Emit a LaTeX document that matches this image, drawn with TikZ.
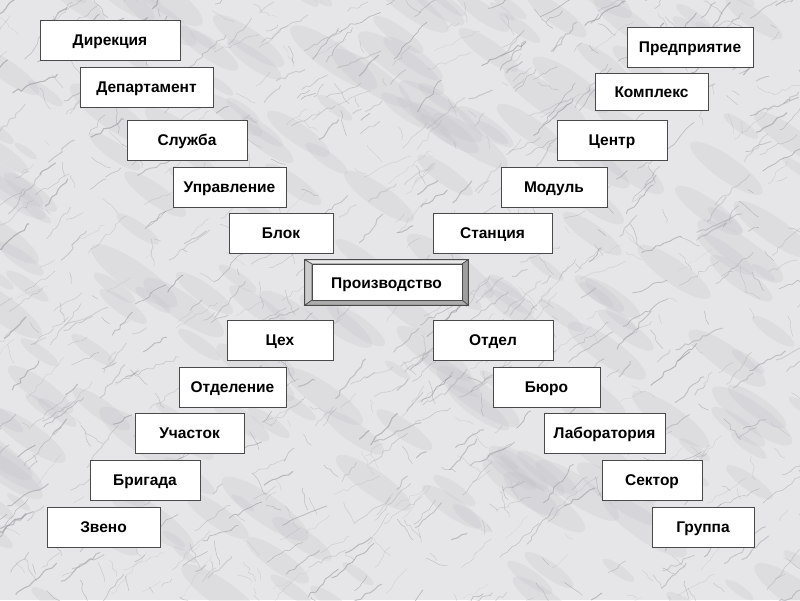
\documentclass[tikz,border=0pt]{standalone}
\usepackage{fontspec}
\setmainfont{Liberation Sans}
\usetikzlibrary{decorations.pathmorphing}
\definecolor{marble}{HTML}{E6E6E8}
\definecolor{vein}{HTML}{8C8C94}
\definecolor{marbleshade}{HTML}{C0C0C6}
\definecolor{edge}{HTML}{4A4A4A}
\tikzset{
  boxfont/.style={font=\bfseries\fontsize{15.5}{18}\selectfont, text=black,
    text height=11pt, text depth=0pt},
  unit/.style={draw=edge, fill=white, line width=0.9pt, inner sep=0pt, boxfont},
  veinline/.style={draw=vein, decorate,
    decoration={random steps, segment length=5pt, amplitude=1.8pt}},
  bevellight/.style={fill=#1, draw=edge, line width=0.6pt, line join=miter}
}
\newcommand\ubox[6]{\node[unit, minimum width={(#4-#2)*1pt}, minimum height={(#5-#3)*1pt}] (#1) at ({(#2+#4)/2},{(#3+#5)/2}) {#6};}
\begin{document}
\begin{tikzpicture}[x=1pt,y=-1pt]
\useasboundingbox (0,0) rectangle (800,600);
% marble background
\fill[marble] (0,0) rectangle (800,600);
\begin{scope}
\clip (0,0) rectangle (800,600);
\pgfmathsetseed{11}
\foreach \i in {1,...,220}{
  \pgfmathsetmacro\xa{rnd*820-10}
  \pgfmathsetmacro\ya{rnd*620-10}
  \pgfmathsetmacro\rr{6+rnd*18}
  \fill[marbleshade, opacity=0.22, rotate around={-35:(\xa,\ya)}] (\xa,\ya) ellipse ({\rr*2.2} and {\rr*0.6});
}
\foreach \i in {1,...,600}{
  \pgfmathsetmacro\xa{rnd*840-20}
  \pgfmathsetmacro\ya{rnd*640-20}
  \pgfmathsetmacro\ang{20+rnd*35}
  \pgfmathsetmacro\len{10+rnd*45}
  \pgfmathsetmacro\lw{0.3+rnd*0.9}
  \pgfmathsetmacro\op{0.15+rnd*0.4}
  \draw[veinline, line width=\lw pt, opacity=\op] (\xa,\ya) -- ++(-\ang:\len);
}
\foreach \i in {1,...,280}{
  \pgfmathsetmacro\xa{rnd*840-20}
  \pgfmathsetmacro\ya{rnd*640-20}
  \pgfmathsetmacro\ang{95+rnd*70}
  \pgfmathsetmacro\len{6+rnd*22}
  \pgfmathsetmacro\op{0.15+rnd*0.35}
  \draw[veinline, line width=0.5pt, opacity=\op] (\xa,\ya) -- ++(-\ang:\len);
}
\end{scope}
% left column, upper
\ubox{dir}{40}{20}{180}{60}{Дирекция}
\ubox{dep}{80}{67}{213}{107}{Департамент}
\ubox{sluzh}{127}{120}{247}{160}{Служба}
\ubox{upr}{173}{167}{286}{207}{Управление}
\ubox{blok}{229}{213}{333}{253}{Блок}
% right column, upper
\ubox{pred}{627}{27}{753}{67}{Предприятие}
\ubox{kompl}{595}{73}{708}{110}{Комплекс}
\ubox{centr}{557}{120}{667}{160}{Центр}
\ubox{modul}{501}{167}{607}{207}{Модуль}
\ubox{stan}{433}{213}{552}{253}{Станция}
% left column, lower
\ubox{ceh}{227}{320}{333}{360}{Цех}
\ubox{otdelen}{179}{367}{286}{407}{Отделение}
\ubox{uch}{135}{413}{244}{453}{Участок}
\ubox{brig}{90}{460}{200}{500}{Бригада}
\ubox{zveno}{47}{507}{160}{547}{Звено}
% right column, lower
\ubox{otdel}{433}{320}{553}{360}{Отдел}
\ubox{buro}{493}{367}{600}{407}{Бюро}
\ubox{lab}{544}{413}{665}{453}{Лаборатория}
\ubox{sekt}{602}{460}{702}{500}{Сектор}
\ubox{grup}{652}{507}{754}{547}{Группа}
% central bevelled button
\node[minimum width=163pt, minimum height=45pt, inner sep=0pt] (prod) at (386.5,282.5) {};
\coordinate (inw) at ([shift={(7pt,-4pt)}]prod.north west);
\coordinate (ine) at ([shift={(-6pt,-4pt)}]prod.north east);
\coordinate (isw) at ([shift={(7pt,5pt)}]prod.south west);
\coordinate (ise) at ([shift={(-6pt,5pt)}]prod.south east);
\filldraw[bevellight=gray!18] (prod.north west) -- (prod.north east) -- (ine) -- (inw) -- cycle;
\filldraw[bevellight=gray!40] (prod.north west) -- (inw) -- (isw) -- (prod.south west) -- cycle;
\filldraw[bevellight=gray!75] (prod.north east) -- (prod.south east) -- (ise) -- (ine) -- cycle;
\filldraw[bevellight=gray!65] (prod.south west) -- (isw) -- (ise) -- (prod.south east) -- cycle;
\filldraw[fill=white, draw=edge, line width=0.6pt] (inw) rectangle (ise);
\draw[edge, line width=0.9pt] (prod.north west) rectangle (prod.south east);
\node[boxfont, inner sep=0pt] (prodtext) at (prod.center) {Производство};
\end{tikzpicture}
\end{document}
